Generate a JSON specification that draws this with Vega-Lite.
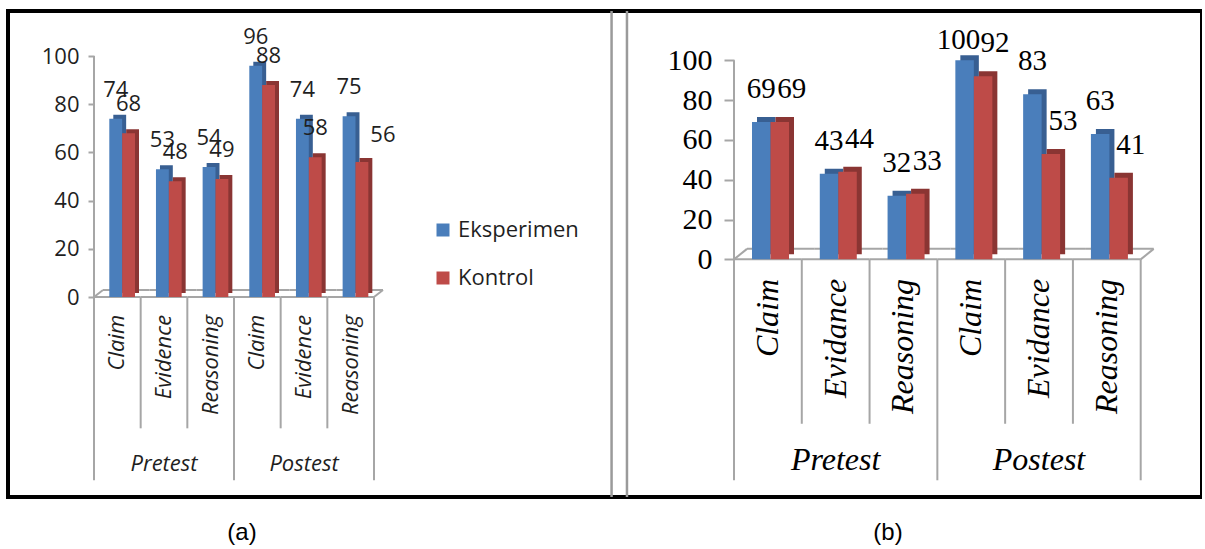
{
  "$schema": "https://vega.github.io/schema/vega-lite/v6.json",
  "width": 1194,
  "height": 486,
  "padding": {"left": 8, "top": 9, "right": 0, "bottom": 0},
  "autosize": {"type": "pad"},
  "background": "white",
  "config": {
    "view": {"stroke": "#000000", "strokeWidth": 4},
    "scale": {"bandPaddingInner": 0, "bandPaddingOuter": 0, "offsetBandPaddingInner": 0, "offsetBandPaddingOuter": 0},
    "axis": {"grid": false}
  },
  "datasets": {
    "panelA": [
      {"slot": "1", "group": "Pretest", "cat": "Claim", "series": "Eksperimen", "value": 74},
      {"slot": "1", "group": "Pretest", "cat": "Claim", "series": "Kontrol", "value": 68},
      {"slot": "2", "group": "Pretest", "cat": "Evidence", "series": "Eksperimen", "value": 53},
      {"slot": "2", "group": "Pretest", "cat": "Evidence", "series": "Kontrol", "value": 48},
      {"slot": "3", "group": "Pretest", "cat": "Reasoning", "series": "Eksperimen", "value": 54},
      {"slot": "3", "group": "Pretest", "cat": "Reasoning", "series": "Kontrol", "value": 49},
      {"slot": "4", "group": "Postest", "cat": "Claim", "series": "Eksperimen", "value": 96},
      {"slot": "4", "group": "Postest", "cat": "Claim", "series": "Kontrol", "value": 88},
      {"slot": "5", "group": "Postest", "cat": "Evidence", "series": "Eksperimen", "value": 74},
      {"slot": "5", "group": "Postest", "cat": "Evidence", "series": "Kontrol", "value": 58},
      {"slot": "6", "group": "Postest", "cat": "Reasoning", "series": "Eksperimen", "value": 75},
      {"slot": "6", "group": "Postest", "cat": "Reasoning", "series": "Kontrol", "value": 56}
    ],
    "panelB": [
      {"slot": "1", "group": "Pretest", "cat": "Claim", "series": "Eksperimen", "value": 69},
      {"slot": "1", "group": "Pretest", "cat": "Claim", "series": "Kontrol", "value": 69},
      {"slot": "2", "group": "Pretest", "cat": "Evidance", "series": "Eksperimen", "value": 43},
      {"slot": "2", "group": "Pretest", "cat": "Evidance", "series": "Kontrol", "value": 44},
      {"slot": "3", "group": "Pretest", "cat": "Reasoning", "series": "Eksperimen", "value": 32},
      {"slot": "3", "group": "Pretest", "cat": "Reasoning", "series": "Kontrol", "value": 33},
      {"slot": "4", "group": "Postest", "cat": "Claim", "series": "Eksperimen", "value": 100},
      {"slot": "4", "group": "Postest", "cat": "Claim", "series": "Kontrol", "value": 92},
      {"slot": "5", "group": "Postest", "cat": "Evidance", "series": "Eksperimen", "value": 83},
      {"slot": "5", "group": "Postest", "cat": "Evidance", "series": "Kontrol", "value": 53},
      {"slot": "6", "group": "Postest", "cat": "Reasoning", "series": "Eksperimen", "value": 63},
      {"slot": "6", "group": "Postest", "cat": "Reasoning", "series": "Kontrol", "value": 41}
    ]
  },
  "layer": [
    {
      "data": {"name": "panelA"},
      "resolve": {"scale": {"xOffset": "independent"}},
      "layer": [
        {
          "transform": [{"filter": "datum.series === 'Eksperimen'"}],
          "mark": {"type": "bar", "fillOpacity": 0, "stroke": "#a6a6a6", "strokeWidth": 2},
          "encoding": {
            "x": {"field": "slot", "type": "nominal", "axis": null, "scale": {"range": [86, 366]}},
            "y": {"datum": 0, "type": "quantitative", "title": null, "scale": {"domain": [-83, 118.7], "nice": false, "zero": false}},
            "y2": {"datum": 0}
          }
        },
        {
          "transform": [{"filter": "datum.series === 'Eksperimen'"}],
          "mark": {"type": "bar", "fillOpacity": 0, "stroke": "#a6a6a6", "strokeWidth": 2, "xOffset": 9, "yOffset": -7, "y2Offset": -7},
          "encoding": {
            "x": {"field": "slot", "type": "nominal", "axis": null},
            "y": {"datum": 0, "type": "quantitative", "title": null},
            "y2": {"datum": 0}
          }
        },
        {
          "transform": [{"filter": "datum.series === 'Eksperimen' && datum.slot === '1'"}],
          "mark": {"type": "rule", "stroke": "#a6a6a6", "strokeWidth": 2, "x2Offset": 9, "y2Offset": -7},
          "encoding": {
            "x": {"field": "slot", "type": "nominal", "bandPosition": 0, "axis": null},
            "x2": {"field": "slot", "bandPosition": 0},
            "y": {"datum": 0, "type": "quantitative", "title": null},
            "y2": {"datum": 0}
          }
        },
        {
          "transform": [{"filter": "datum.series === 'Eksperimen' && datum.slot === '6'"}],
          "mark": {"type": "rule", "stroke": "#a6a6a6", "strokeWidth": 2, "x2Offset": 9, "y2Offset": -7},
          "encoding": {
            "x": {"field": "slot", "type": "nominal", "bandPosition": 1, "axis": null},
            "x2": {"field": "slot", "bandPosition": 1},
            "y": {"datum": 0, "type": "quantitative", "title": null},
            "y2": {"datum": 0}
          }
        },
        {
          "transform": [{"filter": "datum.series === 'Eksperimen' && datum.cat !== 'Claim'"}],
          "mark": {"type": "rule", "stroke": "#a6a6a6", "strokeWidth": 2},
          "encoding": {
            "x": {"field": "slot", "type": "nominal", "bandPosition": 0, "axis": null},
            "y": {"datum": 0, "type": "quantitative", "title": null},
            "y2": {"datum": -54.5}
          }
        },
        {
          "transform": [{"filter": "datum.series === 'Eksperimen' && datum.cat === 'Claim'"}],
          "mark": {"type": "rule", "stroke": "#a6a6a6", "strokeWidth": 2},
          "encoding": {
            "x": {"field": "slot", "type": "nominal", "bandPosition": 0, "axis": null},
            "y": {"datum": 0, "type": "quantitative", "title": null},
            "y2": {"datum": -76.1}
          }
        },
        {
          "transform": [{"filter": "datum.series === 'Eksperimen' && datum.slot === '1'"}],
          "mark": {"type": "rule", "stroke": "#a6a6a6", "strokeWidth": 2},
          "encoding": {
            "x": {"field": "slot", "type": "nominal", "bandPosition": 0, "axis": null},
            "y": {"datum": 100, "type": "quantitative", "title": null},
            "y2": {"datum": 0}
          }
        },
        {
          "transform": [{"filter": "datum.series === 'Eksperimen' && datum.slot === '6'"}],
          "mark": {"type": "rule", "stroke": "#a6a6a6", "strokeWidth": 2},
          "encoding": {
            "x": {"field": "slot", "type": "nominal", "bandPosition": 1, "axis": null},
            "y": {"datum": 0, "type": "quantitative", "title": null},
            "y2": {"datum": -76.1}
          }
        },
        {
          "mark": {"type": "bar", "yOffset": -4},
          "encoding": {
            "x": {"field": "slot", "type": "nominal", "axis": null},
            "xOffset": {"field": "series", "type": "nominal", "scale": {"range": [19.3, 45]}},
            "y": {"field": "value", "type": "quantitative", "title": null,
                  "axis": {"orient": "left", "offset": -86, "values": [0, 20, 40, 60, 80, 100], "domain": false,
                           "ticks": true, "tickSize": 6, "tickColor": "#a6a6a6", "tickWidth": 2,
                           "labelFont": "Open Sans", "labelFontSize": 22, "labelColor": "#1f1f1f", "labelPadding": 9, "title": null}},
            "color": {"condition": {"test": "datum.series === 'Eksperimen'", "value": "#385f92"}, "value": "#8a3533"}
          }
        },
        {
          "mark": {"type": "bar"},
          "encoding": {
            "x": {"field": "slot", "type": "nominal", "axis": null},
            "xOffset": {"field": "series", "type": "nominal", "scale": {"range": [15.3, 41]}},
            "y": {"field": "value", "type": "quantitative", "title": null},
            "color": {
              "field": "series", "type": "nominal",
              "scale": {"domain": ["Eksperimen", "Kontrol"], "range": ["#4a7ebb", "#be4b48"]},
              "legend": {"orient": "none", "legendX": 424, "legendY": 208, "title": null, "symbolType": "square",
                         "symbolSize": 169, "symbolStrokeWidth": 0, "labelFont": "Open Sans", "labelFontSize": 22,
                         "labelColor": "#1f1f1f", "rowPadding": 26, "labelOffset": 4, "padding": 0, "labelLimit": 300}
            }
          }
        },
        {
          "transform": [{"filter": "!(datum.slot === '6' && datum.series === 'Kontrol')"}],
          "mark": {"type": "text", "dy": -29, "baseline": "middle", "align": "center", "font": "Open Sans", "fontSize": 22, "color": "#1f1f1f"},
          "encoding": {
            "x": {"field": "slot", "type": "nominal", "axis": null},
            "xOffset": {"field": "series", "type": "nominal", "scale": {"range": [15.3, 41]}},
            "y": {"field": "value", "type": "quantitative", "title": null},
            "text": {"field": "value", "type": "quantitative"}
          }
        },
        {
          "transform": [{"filter": "datum.slot === '6' && datum.series === 'Kontrol'"}],
          "mark": {"type": "text", "dx": 21, "dy": -27, "baseline": "middle", "align": "center", "font": "Open Sans", "fontSize": 22, "color": "#1f1f1f"},
          "encoding": {
            "x": {"field": "slot", "type": "nominal", "axis": null},
            "xOffset": {"field": "series", "type": "nominal", "scale": {"domain": ["Eksperimen", "Kontrol"], "range": [15.3, 41]}},
            "y": {"field": "value", "type": "quantitative", "title": null},
            "text": {"field": "value", "type": "quantitative"}
          }
        },
        {
          "transform": [{"filter": "datum.series === 'Eksperimen'"}],
          "mark": {"type": "text", "angle": 270, "align": "right", "baseline": "middle", "font": "Open Sans", "fontStyle": "italic", "fontSize": 22, "color": "#1f1f1f"},
          "encoding": {
            "x": {"field": "slot", "type": "nominal", "axis": null},
            "y": {"datum": -7.4, "type": "quantitative", "title": null},
            "text": {"field": "cat"}
          }
        },
        {
          "transform": [{"filter": "datum.series === 'Eksperimen' && datum.cat === 'Evidence'"}],
          "mark": {"type": "text", "align": "center", "baseline": "middle", "font": "Open Sans", "fontStyle": "italic", "fontSize": 22, "color": "#1f1f1f"},
          "encoding": {
            "x": {"field": "slot", "type": "nominal", "axis": null},
            "y": {"datum": -69.1, "type": "quantitative", "title": null},
            "text": {"field": "group"}
          }
        }
      ]
    },
    {
      "data": {"name": "panelB"},
      "resolve": {"scale": {"xOffset": "independent"}},
      "layer": [
        {
          "transform": [{"filter": "datum.series === 'Eksperimen'"}],
          "mark": {"type": "bar", "fillOpacity": 0, "stroke": "#a6a6a6", "strokeWidth": 2},
          "encoding": {
            "x": {"field": "slot", "type": "nominal", "axis": null, "scale": {"range": [726, 1132.7]}},
            "y": {"datum": 0, "type": "quantitative", "title": null, "scale": {"domain": [-119.4, 124.8], "nice": false, "zero": false}},
            "y2": {"datum": 0}
          }
        },
        {
          "transform": [{"filter": "datum.series === 'Eksperimen'"}],
          "mark": {"type": "bar", "fillOpacity": 0, "stroke": "#a6a6a6", "strokeWidth": 2, "xOffset": 13, "yOffset": -10.5, "y2Offset": -10.5},
          "encoding": {
            "x": {"field": "slot", "type": "nominal", "axis": null},
            "y": {"datum": 0, "type": "quantitative", "title": null},
            "y2": {"datum": 0}
          }
        },
        {
          "transform": [{"filter": "datum.series === 'Eksperimen' && datum.slot === '1'"}],
          "mark": {"type": "rule", "stroke": "#a6a6a6", "strokeWidth": 2, "x2Offset": 13, "y2Offset": -10.5},
          "encoding": {
            "x": {"field": "slot", "type": "nominal", "bandPosition": 0, "axis": null},
            "x2": {"field": "slot", "bandPosition": 0},
            "y": {"datum": 0, "type": "quantitative", "title": null},
            "y2": {"datum": 0}
          }
        },
        {
          "transform": [{"filter": "datum.series === 'Eksperimen' && datum.slot === '6'"}],
          "mark": {"type": "rule", "stroke": "#a6a6a6", "strokeWidth": 2, "x2Offset": 13, "y2Offset": -10.5},
          "encoding": {
            "x": {"field": "slot", "type": "nominal", "bandPosition": 1, "axis": null},
            "x2": {"field": "slot", "bandPosition": 1},
            "y": {"datum": 0, "type": "quantitative", "title": null},
            "y2": {"datum": 0}
          }
        },
        {
          "transform": [{"filter": "datum.series === 'Eksperimen' && datum.cat !== 'Claim'"}],
          "mark": {"type": "rule", "stroke": "#a6a6a6", "strokeWidth": 2},
          "encoding": {
            "x": {"field": "slot", "type": "nominal", "bandPosition": 0, "axis": null},
            "y": {"datum": 0, "type": "quantitative", "title": null},
            "y2": {"datum": -82.6}
          }
        },
        {
          "transform": [{"filter": "datum.series === 'Eksperimen' && datum.cat === 'Claim'"}],
          "mark": {"type": "rule", "stroke": "#a6a6a6", "strokeWidth": 2},
          "encoding": {
            "x": {"field": "slot", "type": "nominal", "bandPosition": 0, "axis": null},
            "y": {"datum": 0, "type": "quantitative", "title": null},
            "y2": {"datum": -111}
          }
        },
        {
          "transform": [{"filter": "datum.series === 'Eksperimen' && datum.slot === '1'"}],
          "mark": {"type": "rule", "stroke": "#a6a6a6", "strokeWidth": 2},
          "encoding": {
            "x": {"field": "slot", "type": "nominal", "bandPosition": 0, "axis": null},
            "y": {"datum": 100, "type": "quantitative", "title": null},
            "y2": {"datum": 0}
          }
        },
        {
          "transform": [{"filter": "datum.series === 'Eksperimen' && datum.slot === '6'"}],
          "mark": {"type": "rule", "stroke": "#a6a6a6", "strokeWidth": 2},
          "encoding": {
            "x": {"field": "slot", "type": "nominal", "bandPosition": 1, "axis": null},
            "y": {"datum": 0, "type": "quantitative", "title": null},
            "y2": {"datum": -111}
          }
        },
        {
          "mark": {"type": "bar", "yOffset": -5},
          "encoding": {
            "x": {"field": "slot", "type": "nominal", "axis": null},
            "xOffset": {"field": "series", "type": "nominal", "scale": {"range": [23, 60]}},
            "y": {"field": "value", "type": "quantitative", "title": null,
                  "axis": {"orient": "left", "offset": -726, "values": [0, 20, 40, 60, 80, 100], "domain": false,
                           "ticks": true, "tickSize": 10, "tickColor": "#a6a6a6", "tickWidth": 2,
                           "labelFont": "Liberation Serif", "labelFontSize": 30, "labelColor": "#000000", "labelPadding": 12, "title": null}},
            "color": {"condition": {"test": "datum.series === 'Eksperimen'", "value": "#385f92"}, "value": "#8a3533"}
          }
        },
        {
          "mark": {"type": "bar"},
          "encoding": {
            "x": {"field": "slot", "type": "nominal", "axis": null},
            "xOffset": {"field": "series", "type": "nominal", "scale": {"range": [18, 55]}},
            "y": {"field": "value", "type": "quantitative", "title": null},
            "color": {"condition": {"test": "datum.series === 'Eksperimen'", "value": "#4a7ebb"}, "value": "#be4b48"}
          }
        },
        {
          "transform": [{"filter": "datum.series === 'Eksperimen' && datum.slot !== '4'"}],
          "mark": {"type": "text", "dy": -33, "baseline": "middle", "align": "center", "font": "Liberation Serif", "fontSize": 29, "color": "#000000"},
          "encoding": {
            "x": {"field": "slot", "type": "nominal", "axis": null},
            "xOffset": {"field": "series", "type": "nominal", "scale": {"domain": ["Eksperimen", "Kontrol"], "range": [18, 55]}},
            "y": {"field": "value", "type": "quantitative", "title": null},
            "text": {"field": "value", "type": "quantitative"}
          }
        },
        {
          "transform": [{"filter": "datum.series === 'Kontrol'"}],
          "mark": {"type": "text", "dx": 12, "dy": -33, "baseline": "middle", "align": "center", "font": "Liberation Serif", "fontSize": 29, "color": "#000000"},
          "encoding": {
            "x": {"field": "slot", "type": "nominal", "axis": null},
            "xOffset": {"field": "series", "type": "nominal", "scale": {"domain": ["Eksperimen", "Kontrol"], "range": [18, 55]}},
            "y": {"field": "value", "type": "quantitative", "title": null},
            "text": {"field": "value", "type": "quantitative"}
          }
        },
        {
          "transform": [{"filter": "datum.series === 'Eksperimen' && datum.slot === '4'"}],
          "mark": {"type": "text", "dx": -6, "dy": -20, "baseline": "middle", "align": "center", "font": "Liberation Serif", "fontSize": 29, "color": "#000000"},
          "encoding": {
            "x": {"field": "slot", "type": "nominal", "axis": null},
            "xOffset": {"field": "series", "type": "nominal", "scale": {"domain": ["Eksperimen", "Kontrol"], "range": [18, 55]}},
            "y": {"field": "value", "type": "quantitative", "title": null},
            "text": {"field": "value", "type": "quantitative"}
          }
        },
        {
          "transform": [{"filter": "datum.series === 'Eksperimen'"}],
          "mark": {"type": "text", "angle": 270, "align": "right", "baseline": "middle", "font": "Liberation Serif", "fontStyle": "italic", "fontSize": 32, "color": "#000000"},
          "encoding": {
            "x": {"field": "slot", "type": "nominal", "axis": null},
            "y": {"datum": -9.8, "type": "quantitative", "title": null},
            "text": {"field": "cat"}
          }
        },
        {
          "transform": [{"filter": "datum.series === 'Eksperimen' && datum.cat === 'Evidance'"}],
          "mark": {"type": "text", "align": "center", "baseline": "middle", "font": "Liberation Serif", "fontStyle": "italic", "fontSize": 32, "color": "#000000"},
          "encoding": {
            "x": {"field": "slot", "type": "nominal", "axis": null},
            "y": {"datum": -100.8, "type": "quantitative", "title": null},
            "text": {"field": "group"}
          }
        }
      ]
    },
    {
      "data": {"values": [{}]},
      "layer": [
        {
          "mark": {"type": "rule", "stroke": "#9a9a9a", "strokeWidth": 2.5},
          "encoding": {
            "x": {"datum": 0.5055, "type": "quantitative", "axis": null, "scale": {"domain": [0, 1], "nice": false, "zero": false}},
            "y": {"datum": 0, "type": "quantitative", "axis": null, "scale": {"domain": [0, 1], "nice": false, "zero": false}},
            "y2": {"datum": 1}
          }
        },
        {
          "mark": {"type": "rule", "stroke": "#9a9a9a", "strokeWidth": 2.5},
          "encoding": {
            "x": {"datum": 0.5184, "type": "quantitative", "axis": null},
            "y": {"datum": 0, "type": "quantitative", "axis": null},
            "y2": {"datum": 1}
          }
        },
        {
          "mark": {"type": "text", "align": "center", "baseline": "middle", "font": "Liberation Sans", "fontSize": 24, "color": "#000000"},
          "encoding": {
            "x": {"datum": 0.196, "type": "quantitative", "axis": null},
            "y": {"datum": -0.074, "type": "quantitative", "axis": null},
            "text": {"value": "(a)"}
          }
        },
        {
          "mark": {"type": "text", "align": "center", "baseline": "middle", "font": "Liberation Sans", "fontSize": 24, "color": "#000000"},
          "encoding": {
            "x": {"datum": 0.737, "type": "quantitative", "axis": null},
            "y": {"datum": -0.074, "type": "quantitative", "axis": null},
            "text": {"value": "(b)"}
          }
        }
      ]
    }
  ],
  "resolve": {
    "scale": {"x": "independent", "y": "independent", "xOffset": "independent"},
    "axis": {"x": "independent", "y": "independent"}
  }
}
